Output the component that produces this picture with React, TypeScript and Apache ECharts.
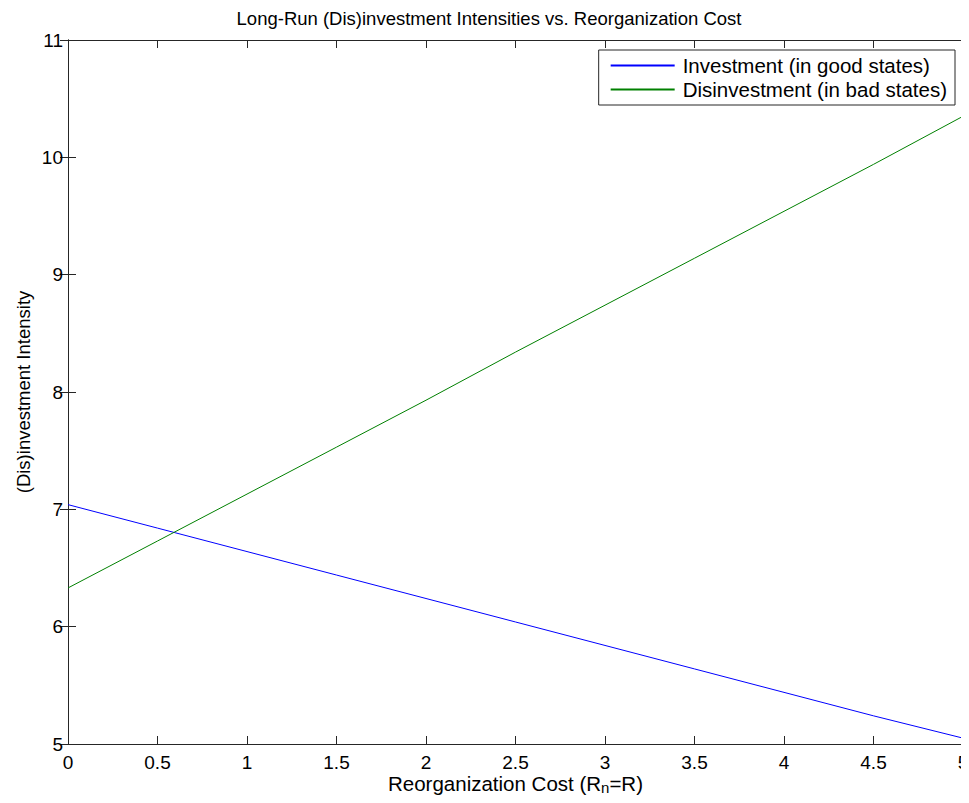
import React, { useEffect, useRef } from "react";
import * as echarts from "echarts";

const xValues = [0, 0.5, 1, 1.5, 2, 2.5, 3, 3.5, 4, 4.5, 5];
const investment = [7.04, 6.84, 6.64, 6.44, 6.24, 6.04, 5.84, 5.64, 5.44, 5.24, 5.05];
const disinvestment = [6.33, 6.73, 7.13, 7.53, 7.93, 8.34, 8.74, 9.14, 9.54, 9.94, 10.35];
const seriesNames = ["Investment (in good states)", "Disinvestment (in bad states)"];
const seriesColors = ["#0000ff", "#008000"];
const FONT = "Liberation Sans, Arial, sans-serif";

export default function App() {
  const ref = useRef<HTMLDivElement>(null);
  useEffect(() => {
    const chart = echarts.init(ref.current!, null, { renderer: "svg" });
    const axisLine = { show: true, lineStyle: { color: "#262626", width: 1 } };
    const tick = { show: true, inside: true, length: 8, lineStyle: { color: "#262626" } };
    const label = { fontSize: 19, color: "#000", fontFamily: FONT };
    chart.setOption({
      animation: false,
      backgroundColor: "#fff",
      title: {
        text: "Long-Run (Dis)investment Intensities vs. Reorganization Cost",
        left: 484,
        textAlign: "center",
        top: 4,
        textStyle: { fontSize: 18.5, fontWeight: "normal", color: "#000", fontFamily: FONT },
      },
      grid: { left: 68, right: 6, top: 40, bottom: 59, containLabel: false, outerBoundsMode: "none" },
      legend: {
        orient: "vertical",
        right: 14,
        top: 50,
        padding: [5, 8, 5, 11],
        itemGap: 3,
        itemWidth: 64,
        itemHeight: 24,
        itemStyle: { opacity: 0 },
        borderColor: "#262626",
        borderWidth: 1,
        borderRadius: 0,
        backgroundColor: "#fff",
        textStyle: { fontSize: 20.5, color: "#000", fontFamily: FONT, padding: [0, 0, 0, 3] },
        data: seriesNames,
      },
      xAxis: [
        {
          type: "value",
          min: 0,
          max: 5,
          interval: 0.5,
          position: "bottom",
          axisLine,
          axisTick: tick,
          splitLine: { show: false },
          axisLabel: { ...label, margin: 9 },
          name: "{a|Reorganization Cost (R}{s|n}{a|=R)}",
          nameLocation: "middle",
          nameGap: 27,
          nameMoveOverlap: false,
          nameTextStyle: {
            rich: {
              a: { fontSize: 20.5, color: "#000", fontFamily: FONT },
              s: { fontSize: 15, color: "#000", fontFamily: FONT, padding: [9, 0, 0, 0] },
            },
          },
        },
        {
          type: "value",
          min: 0,
          max: 5,
          interval: 0.5,
          position: "top",
          axisLine,
          axisTick: tick,
          splitLine: { show: false },
          axisLabel: { show: false },
        },
      ],
      yAxis: [
        {
          type: "value",
          min: 5,
          max: 11,
          interval: 1,
          position: "left",
          axisLine,
          axisTick: tick,
          splitLine: { show: false },
          axisLabel: { ...label, margin: 5 },
          name: "(Dis)investment Intensity",
          nameLocation: "middle",
          nameGap: 35,
          nameMoveOverlap: false,
          nameTextStyle: { fontSize: 18.5, color: "#000", fontFamily: FONT },
        },
        {
          type: "value",
          min: 5,
          max: 11,
          interval: 1,
          position: "right",
          axisLine,
          axisTick: tick,
          splitLine: { show: false },
          axisLabel: { show: false },
        },
      ],
      series: [
        {
          name: seriesNames[0],
          type: "line",
          symbol: "none",
          data: xValues.map((x, i) => [x, investment[i]]),
          lineStyle: { color: seriesColors[0], width: 1 },
          itemStyle: { color: seriesColors[0] },
        },
        {
          name: seriesNames[1],
          type: "line",
          symbol: "none",
          data: xValues.map((x, i) => [x, disinvestment[i]]),
          lineStyle: { color: seriesColors[1], width: 1 },
          itemStyle: { color: seriesColors[1] },
        },
      ],
    });
    return () => chart.dispose();
  }, []);
  return <div ref={ref} style={{ width: 969, height: 803, margin: -8 }} />;
}
